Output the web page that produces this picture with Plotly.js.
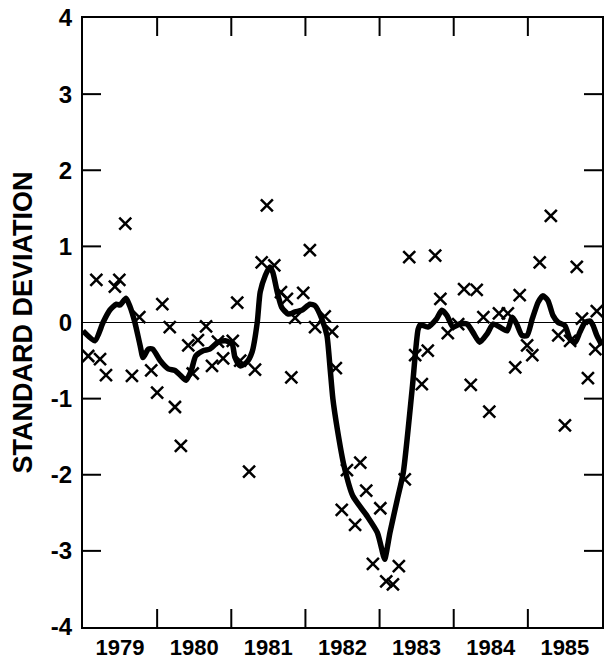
<!DOCTYPE html>
<html>
<head>
<meta charset="utf-8">
<script src="https://cdn.plot.ly/plotly-3.0.1.min.js"></script>
<style>html,body{margin:0;padding:0;background:#fff;}#chart{width:604px;height:659px;}</style>
</head>
<body>
<div id="chart"></div>
<script>
// Observed values (crosses): decimal year, standard deviation
const obsYear = [1979.07,1979.18,1979.23,1979.31,1979.43,1979.49,1979.57,1979.66,1979.76,1979.92,
  1980.00,1980.07,1980.17,1980.24,1980.32,1980.42,1980.48,1980.55,1980.66,1980.74,1980.82,1980.89,
  1981.02,1981.08,1981.12,1981.24,1981.32,1981.41,1981.48,1981.58,1981.67,1981.75,1981.81,1981.86,1981.97,
  1982.06,1982.13,1982.26,1982.36,1982.41,1982.49,1982.56,1982.67,1982.74,1982.82,1982.91,
  1983.01,1983.09,1983.18,1983.26,1983.34,1983.40,1983.48,1983.57,1983.65,1983.75,1983.82,1983.92,
  1984.06,1984.14,1984.23,1984.31,1984.40,1984.48,1984.61,1984.73,1984.83,1984.89,1984.99,
  1985.06,1985.16,1985.31,1985.41,1985.50,1985.57,1985.66,1985.73,1985.81,1985.91,1985.93];
const obsValue = [-0.44,0.56,-0.48,-0.69,0.47,0.56,1.30,-0.70,0.07,-0.63,
  -0.92,0.24,-0.06,-1.11,-1.62,-0.30,-0.67,-0.23,-0.05,-0.57,-0.25,-0.47,
  -0.24,0.26,-0.50,-1.96,-0.62,0.79,1.54,0.75,0.40,0.31,-0.72,0.06,0.39,
  0.95,-0.06,0.08,-0.12,-0.60,-2.46,-1.94,-2.66,-1.84,-2.21,-3.17,
  -2.44,-3.40,-3.44,-3.20,-2.06,0.86,-0.43,-0.81,-0.37,0.88,0.31,-0.14,
  -0.02,0.44,-0.82,0.43,0.07,-1.17,0.12,0.12,-0.59,0.36,-0.30,
  -0.43,0.79,1.40,-0.17,-1.35,-0.24,0.73,0.05,-0.73,-0.35,0.15];

// Smoothed curve
const smoothYear = [1979.00,1979.16,1979.27,1979.36,1979.45,1979.50,1979.58,1979.63,1979.70,1979.77,1979.81,1979.88,1979.94,
  1980.04,1980.15,1980.24,1980.32,1980.39,1980.46,1980.52,1980.62,1980.71,1980.82,1980.92,
  1981.01,1981.05,1981.12,1981.21,1981.28,1981.35,1981.39,1981.46,1981.52,1981.56,1981.62,1981.68,1981.77,1981.86,1981.95,
  1982.06,1982.13,1982.22,1982.29,1982.33,1982.37,1982.43,1982.52,1982.64,1982.83,1982.97,
  1983.05,1983.07,1983.14,1983.24,1983.32,1983.44,1983.52,1983.55,1983.65,1983.77,1983.84,1983.91,1983.99,
  1984.08,1984.18,1984.26,1984.35,1984.45,1984.53,1984.62,1984.72,1984.79,1984.85,1984.92,1984.99,
  1985.06,1985.14,1985.20,1985.27,1985.34,1985.41,1985.50,1985.57,1985.64,1985.70,1985.77,1985.84,1985.88,1985.93,1986.00];
const smoothValue = [-0.11,-0.24,0.00,0.16,0.24,0.23,0.32,0.22,0.00,-0.30,-0.46,-0.35,-0.35,
  -0.50,-0.61,-0.63,-0.70,-0.76,-0.63,-0.44,-0.37,-0.35,-0.26,-0.24,
  -0.28,-0.46,-0.57,-0.52,-0.39,0.00,0.40,0.62,0.73,0.66,0.40,0.20,0.11,0.14,0.16,
  0.24,0.22,0.05,-0.17,-0.57,-1.00,-1.40,-1.88,-2.28,-2.54,-2.76,
  -3.06,-3.11,-2.76,-2.32,-1.97,-0.87,-0.09,-0.03,-0.06,0.05,0.16,0.09,-0.06,
  -0.02,-0.02,-0.13,-0.26,-0.15,-0.02,-0.06,-0.11,0.07,-0.02,-0.17,-0.17,
  0.05,0.27,0.35,0.29,0.09,0.00,-0.04,-0.22,-0.26,-0.13,0.00,0.02,-0.04,-0.17,-0.30];

const yearLabels = ['1979','1980','1981','1982','1983','1984','1985'];
const yearStarts = [1979,1980,1981,1982,1983,1984,1985];
const yearBoundaries = [1980,1981,1982,1983,1984,1985];
const yTicks = [-4,-3,-2,-1,0,1,2,3,4];
const yTickText = ['-4','-3','-2','-1','0','1','2','3','4'];
const yInnerTicks = [-3,-2,-1,1,2,3];

const X0 = 1979, X1 = 1986, Y0 = -4, Y1 = 4;
const font = 'Arial, "Liberation Sans", sans-serif';

// Inward tick marks (axis decoration), 18 px long converted to axis units
const plotW = 604 - 83 - 2, plotH = 659 - 18 - 32, TICKPX = 18;
const tx = TICKPX * (X1 - X0) / plotW;
const ty = TICKPX * (Y1 - Y0) / plotH;
const tickX = [], tickY = [];
yearBoundaries.forEach(v => {
  tickX.push(v, v, null, v, v, null);
  tickY.push(Y0, Y0 + ty, null, Y1, Y1 - ty, null);
});
yInnerTicks.forEach(v => {
  tickX.push(X0, X0 + tx, null, X1, X1 - tx, null);
  tickY.push(v, v, null, v, v, null);
});

const traces = [
  {x: tickX, y: tickY, mode: 'lines', type: 'scatter', connectgaps: false,
   line: {color: '#000', width: 2}, hoverinfo: 'skip', cliponaxis: false},
  {x: smoothYear, y: smoothValue, mode: 'lines', type: 'scatter',
   line: {color: '#000', width: 5.5, shape: 'spline', smoothing: 0.6}, hoverinfo: 'skip'},
  {x: obsYear, y: obsValue, mode: 'markers', type: 'scatter',
   marker: {symbol: 'x-thin', size: 12, color: '#000', line: {color: '#000', width: 2.5}}}
];

const layout = {
  width: 604, height: 659,
  margin: {l: 83, r: 2, t: 18, b: 32},
  paper_bgcolor: '#fff', plot_bgcolor: '#fff',
  showlegend: false,
  font: {family: font, color: '#000'},
  xaxis: {
    range: [X0, X1], showgrid: false, zeroline: false,
    showline: true, linecolor: '#000', linewidth: 2, mirror: true,
    tickmode: 'array', tickvals: yearStarts, ticktext: yearLabels,
    ticks: '', ticklabelshift: 37, ticklabelstandoff: 0,
    tickfont: {size: 22, family: font, color: '#000', weight: 'bold'}
  },
  yaxis: {
    range: [Y0, Y1], showgrid: false,
    zeroline: true, zerolinecolor: '#000', zerolinewidth: 1.5,
    showline: true, linecolor: '#000', linewidth: 2, mirror: true,
    tickmode: 'array', tickvals: yTicks, ticktext: yTickText,
    ticks: '', ticklabelstandoff: 4,
    tickfont: {size: 24, family: font, color: '#000', weight: 'bold'},
    title: {text: 'STANDARD DEVIATION', font: {size: 27, family: font, color: '#000', weight: 'bold'}, standoff: 10}
  }
};

Plotly.newPlot('chart', traces, layout, {staticPlot: true});
</script>
</body>
</html>
